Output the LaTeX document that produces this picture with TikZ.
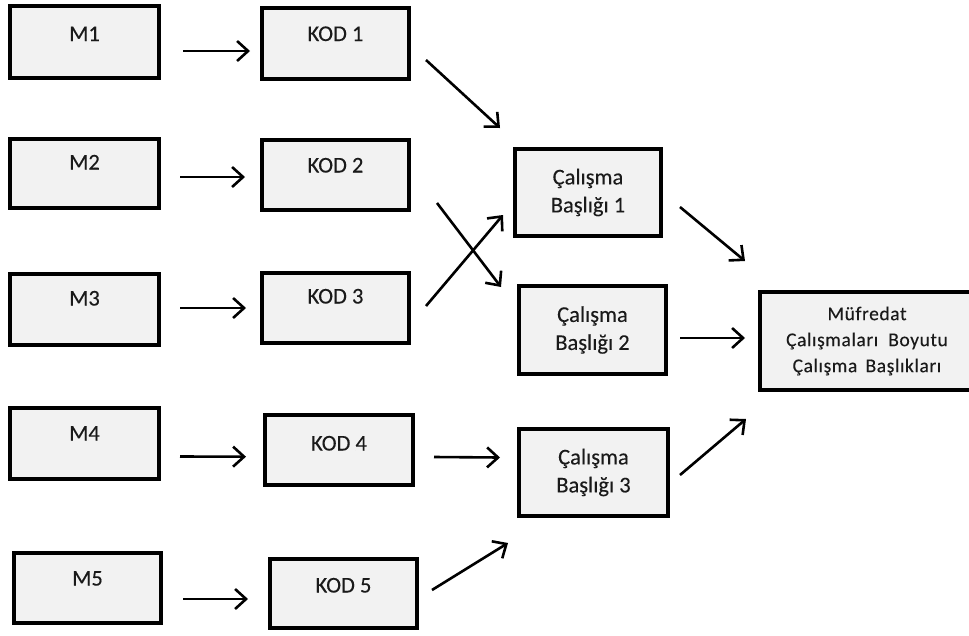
\documentclass[tikz,border=0pt]{standalone}
\usepackage{fontspec}
\setmainfont{Carlito}
\usetikzlibrary{arrows.meta}
\definecolor{boxfill}{HTML}{F2F2F2}
\definecolor{txt}{HTML}{1A1A1A}
\begin{document}
\begin{tikzpicture}[x=1pt,y=-1pt,
  box/.style={draw=black, line width=4.2pt, fill=boxfill, inner sep=0pt, outer sep=0pt,
    text=txt, font=\fontsize{22.5}{28}\selectfont\addfontfeatures{FakeBold=0.2}, align=center},
  sbox/.style n args={3}{box, minimum width=#1, text height=#2, text depth=#3},
  arr/.style={line width=2.6pt, -{Straight Barb[length=11pt,width=20pt,line width=2.6pt]}}
]
\useasboundingbox (0,0) rectangle (969,635);
% left column
\node[sbox={149pt}{35pt}{37pt}] (m1) at (84.5,42) {M1};
\node[sbox={149pt}{30.5pt}{38.5pt}] (m2) at (84.5,173.5) {M2};
\node[sbox={149pt}{31.5pt}{39.5pt}] (m3) at (84.5,309.5) {M3};
\node[sbox={149pt}{32.5pt}{38.5pt}] (m4) at (84.5,443.5) {M4};
\node[sbox={147pt}{32.5pt}{37.5pt}] (m5) at (87.5,588) {M5};
% codes
\node[sbox={147pt}{33pt}{38pt}] (k1) at (335.5,43.5) {KOD 1};
\node[sbox={147pt}{32.5pt}{37.5pt}] (k2) at (335.5,175) {KOD 2};
\node[sbox={147pt}{30.5pt}{39.5pt}] (k3) at (335.5,308) {KOD 3};
\node[sbox={148pt}{35.5pt}{34.5pt}] (k4) at (339,450) {KOD 4};
\node[sbox={147pt}{33.5pt}{35.5pt}] (k5) at (343.5,593.5) {KOD 5};
% titles
\node[box, minimum width=146pt, minimum height=87pt] (c1) at (588,192.5) {Çalışma\\Başlığı 1};
\node[box, minimum width=147pt, minimum height=88pt] (c2) at (592.5,330) {Çalışma\\Başlığı 2};
\node[box, minimum width=149pt, minimum height=87pt] (c3) at (593.5,472.5) {Çalışma\\Başlığı 3};
% result
\node[box, minimum width=214pt, minimum height=98pt,
  font=\fontsize{19.5}{26}\selectfont\addfontfeatures{FakeBold=0.2,LetterSpace=3}] (mu) at (867,341)
  {Müfredat\\Çalışmaları \ Boyutu\\Çalışma \,Başlıkları};
% arrows
\draw[arr] ([shift={(24,9)}]m1.east) -- ([shift={(-12,7.5)}]k1.west);
\draw[arr] ([shift={(21,3.5)}]m2.east) -- ([shift={(-17,2)}]k2.west);
\draw[arr] ([shift={(21,-1.5)}]m3.east) -- ([shift={(-16,0)}]k3.west);
\draw[arr] ([shift={(21,13)}]m4.east) -- ([shift={(-19,6.7)}]k4.west);
\draw[arr] ([shift={(22,11)}]m5.east) -- ([shift={(-22,5.5)}]k5.west);
\draw[arr] ([shift={(17,16.5)}]k1.east) -- ([shift={(-15,-21)}]c1.north west);
\draw[arr] ([shift={(28,28)}]k2.east) -- ([shift={(-18,-43)}]c2.west);
\draw[arr] ([shift={(17,-2)}]k3.east) -- ([shift={(-12,22.5)}]c1.west);
\draw[arr] ([shift={(21,7)}]k4.east) -- ([shift={(-19,-15)}]c3.west);
\draw[arr] ([shift={(15,-3.5)}]k5.east) -- ([shift={(-11,27)}]c3.south west);
\draw[arr] ([shift={(19,14.5)}]c1.east) -- ([shift={(-15,-31)}]mu.north west);
\draw[arr] ([shift={(14,8)}]c2.east) -- ([shift={(-15,-3)}]mu.west);
\draw[arr] ([shift={(12,2.5)}]c3.east) -- ([shift={(-14,29)}]mu.south west);
\end{tikzpicture}
\end{document}
